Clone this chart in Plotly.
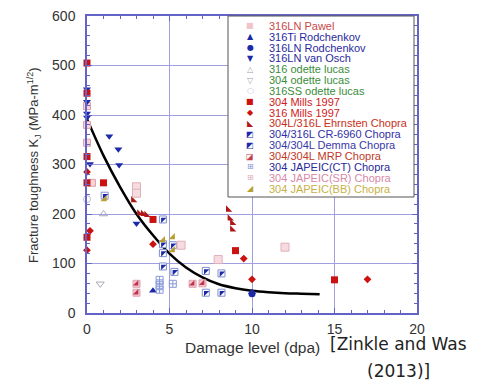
import plotly.graph_objects as go

# ---------------- data ----------------
pawel_x = [0, 0, 0, 0.3]
pawel_y = [418, 380, 344, 263]
ti_rod_x = [4.0, 10.0]
ti_rod_y = [45, 42]
ln_rod_x = [10.0]
ln_rod_y = [39]
vanosch_x = [0, 0, 0, 0, 1.35, 1.9, 0.18, 1.95, 3.0]
vanosch_y = [452, 427, 403, 395, 357, 331, 301, 299, 181]
od316_x = [1.0]
od316_y = [200]
od304_x = [0.8]
od304_y = [59]
od316ss_x = [0]
od316ss_y = [230]
mills304_x = [0, 0, 0, 0, 1.0, 4.0, 0, 9.0, 15.0]
mills304_y = [505, 444, 316, 263, 263, 189, 153, 126, 67]
mills316_x = [0, 0.18, 0, 4.0, 9.5, 10.0, 17.0]
mills316_y = [285, 166, 127, 139, 110, 68, 68]
ehrn_x = [2.8, 3.17, 3.4, 3.6, 8.55, 8.65, 8.8, 8.8]
ehrn_y = [228, 201, 200, 198, 209, 191, 182, 169]
cr_x = [1.07, 4.6, 4.6, 4.6, 4.6, 5.2, 5.3]
cr_y = [237, 189, 139, 121, 94, 137, 83]
demma_x = [7.2, 8.15, 7.2, 8.15]
demma_y = [85, 80, 41, 41]
mrp_x = [3.0, 3.0, 6.4, 7.0]
mrp_y = [59, 41, 59, 60]
ct_x = [4.4, 4.4, 4.4, 5.2]
ct_y = [67, 57, 47, 59]
sr_x = [3.0, 3.0, 5.7, 7.95, 12.0]
sr_y = [255, 242, 137, 108, 133]
bb_x = [1.07, 4.6, 5.2, 5.2]
bb_y = [230, 147, 153, 127]

curve_x = [0, 1, 2, 3, 4, 5, 6, 7, 8, 9, 10, 11, 12, 13, 14.1]
curve_y = [392, 318, 255, 200, 157, 120, 92, 72, 58, 50, 45, 42, 40, 39, 38]

legend_labels = ["316LN Pawel", "316Ti Rodchenkov", "316LN Rodchenkov", "316LN van Osch",
                 "316 odette lucas", "304 odette lucas", "316SS odette lucas", "304 Mills 1997",
                 "316 Mills 1997", "304L/316L Ehrnsten Chopra", "304/316L CR-6960 Chopra",
                 "304/304L Demma Chopra", "304/304L MRP Chopra", "304 JAPEIC(CT) Chopra",
                 "304 JAPEIC(SR) Chopra", "304 JAPEIC(BB) Chopra"]
legend_text_colors = ["#c84848", "#2a2aa0", "#2a2aa0", "#2a2aa0", "#3c8c3c", "#3c8c3c", "#3c8c3c",
                      "#d02020", "#d02020", "#c83020", "#3030a8", "#3838a8", "#c03828", "#2a2a9a",
                      "#d888a8", "#c8b048"]
legend_glyphs = ["■", "▲", "●", "▼", "△", "▽", "○", "■", "◆", "◣", "◩", "◩", "◪", "⊞", "⊞", "◢"]
legend_glyph_colors = ["#f0c4c8", "#1c2aa8", "#1c2aa8", "#1c2aa8", "#a0a0b0", "#a0a0b0", "#b8c0d8",
                       "#cc1111", "#cc1111", "#b01818", "#1c2aa8", "#1c2aa8", "#c04050", "#8090d0",
                       "#e0a8b8", "#b8a030"]

fig = go.Figure()

def pts(x, y, symbol, color, size=7, line_color=None, line_width=0):
    fig.add_trace(go.Scatter(
        x=x, y=y, mode="markers", showlegend=False, cliponaxis=False,
        marker=dict(symbol=symbol, color=color, size=size,
                    line=dict(color=line_color or color, width=line_width))))

# curve
fig.add_trace(go.Scatter(x=curve_x, y=curve_y, mode="lines", showlegend=False,
                         line=dict(color="black", width=2.5, shape="spline")))

pts(pawel_x, pawel_y, "square", "#f6d4d8", 7, "#e0a0a8", 1)
pts(ti_rod_x, ti_rod_y, "triangle-up", "#1c2aa8", 7)
pts(ln_rod_x, ln_rod_y, "circle", "#1c2aa8", 7)
pts(vanosch_x, vanosch_y, "triangle-down", "#1c2aa8", 7)
pts(od316_x, od316_y, "triangle-up-open", "#a8a8b8", 7, None, 1)
pts(od304_x, od304_y, "triangle-down-open", "#a8a8b8", 7, None, 1)
pts(od316ss_x, od316ss_y, "circle-open", "#b8c0d8", 7, None, 1)
pts(mills304_x, mills304_y, "square", "#cc1111", 7)
pts(mills316_x, mills316_y, "diamond", "#cc1111", 6)
pts(ehrn_x, ehrn_y, "triangle-sw", "#b01818", 7)
# half-filled squares
pts(cr_x, cr_y, "square", "white", 7, "#8090d0", 1)
pts(cr_x, cr_y, "triangle-nw", "#1c2aa8", 6)
pts(demma_x, demma_y, "square", "white", 7, "#8090d0", 1)
pts(demma_x, demma_y, "triangle-nw", "#1c2aa8", 6)
pts(mrp_x, mrp_y, "square", "#f2c8d0", 7, "#e0a0b0", 1)
pts(mrp_x, mrp_y, "triangle-se", "#c03048", 6)
pts(ct_x, ct_y, "square-cross-open", "#8898d8", 7, None, 1)
pts(sr_x, sr_y, "square", "#f6dce0", 8, "#e0b0b8", 1)
pts(bb_x, bb_y, "triangle-se", "#b8a030", 7)

# ---------------- layout ----------------
L, R, T, B = 87, 66, 16, 71
W, H = 483, 384
pw, ph = W - L - R, H - T - B

def px2paper_x(p):
    return (p - L) / pw

def py2paper_y(p):
    return (H - B - p) / ph

axis_common = dict(
    showline=True, linecolor="#6464c8", linewidth=1.5, mirror="allticks",
    showgrid=True, gridcolor="#a0a0e0", gridwidth=1,
    ticks="inside", ticklen=5, tickcolor="#6464c8", tickwidth=1,
    zeroline=False,
    tickfont=dict(family="Liberation Sans, Arial", size=14, color="#333333"),
)

fig.update_xaxes(range=[0, 20], dtick=5, tick0=0,
                 minor=dict(dtick=1, ticks="inside", ticklen=3, tickcolor="#6464c8", showgrid=False),
                 ticklabelstandoff=2, **axis_common)
fig.update_yaxes(range=[0, 600], dtick=100, tick0=0,
                 minor=dict(dtick=20, ticks="inside", ticklen=3, tickcolor="#6464c8", showgrid=False),
                 ticklabelstandoff=7, **axis_common)

shapes = [dict(type="rect", xref="paper", yref="paper",
               x0=px2paper_x(228), x1=px2paper_x(414), y0=py2paper_y(197), y1=py2paper_y(16),
               line=dict(color="#555555", width=1), fillcolor="white", layer="above")]

annotations = []
for i, (lab, tc, g, gc) in enumerate(zip(legend_labels, legend_text_colors, legend_glyphs, legend_glyph_colors)):
    yy = py2paper_y(25.8 + 10.85 * i)
    annotations.append(dict(x=px2paper_x(250), y=yy, xref="paper", yref="paper", text=g,
                            showarrow=False, xanchor="center", yanchor="middle", borderpad=0,
                            font=dict(family="DejaVu Sans", size=8, color=gc)))
    annotations.append(dict(x=px2paper_x(268), y=yy, xref="paper", yref="paper", text=lab,
                            showarrow=False, xanchor="left", yanchor="middle", borderpad=0,
                            font=dict(family="Liberation Sans, Arial", size=11, color=tc)))

annotations.append(dict(x=px2paper_x(252), y=py2paper_y(347), xref="paper", yref="paper",
                        text="Damage level (dpa)", showarrow=False, xanchor="center", yanchor="middle",
                        font=dict(family="Liberation Sans, Arial", size=15.5, color="#333333")))
annotations.append(dict(x=px2paper_x(34), y=py2paper_y(165), xref="paper", yref="paper",
                        text="Fracture toughness K<sub>J</sub> (MPa-m<sup>1/2</sup>)", textangle=-90,
                        showarrow=False, xanchor="center", yanchor="middle",
                        font=dict(family="Liberation Sans, Arial", size=13, color="#333333")))
annotations.append(dict(x=px2paper_x(329), y=py2paper_y(344), xref="paper", yref="paper",
                        text="[Zinkle and Was", showarrow=False, xanchor="left", yanchor="middle",
                        borderpad=0, font=dict(family="DejaVu Sans", size=17, color="#222222")))
annotations.append(dict(x=px2paper_x(398), y=py2paper_y(371), xref="paper", yref="paper",
                        text="(2013)]", showarrow=False, xanchor="center", yanchor="middle",
                        borderpad=0, font=dict(family="DejaVu Sans", size=17, color="#222222")))

fig.update_layout(
    width=W, height=H, margin=dict(l=L, r=R, t=T, b=B, autoexpand=False),
    paper_bgcolor="white", plot_bgcolor="white",
    shapes=shapes, annotations=annotations, showlegend=False,
)

fig.write_html("out.html", config={"displayModeBar": False},
               post_script="document.body.style.margin='0';document.body.style.overflow='hidden';")
